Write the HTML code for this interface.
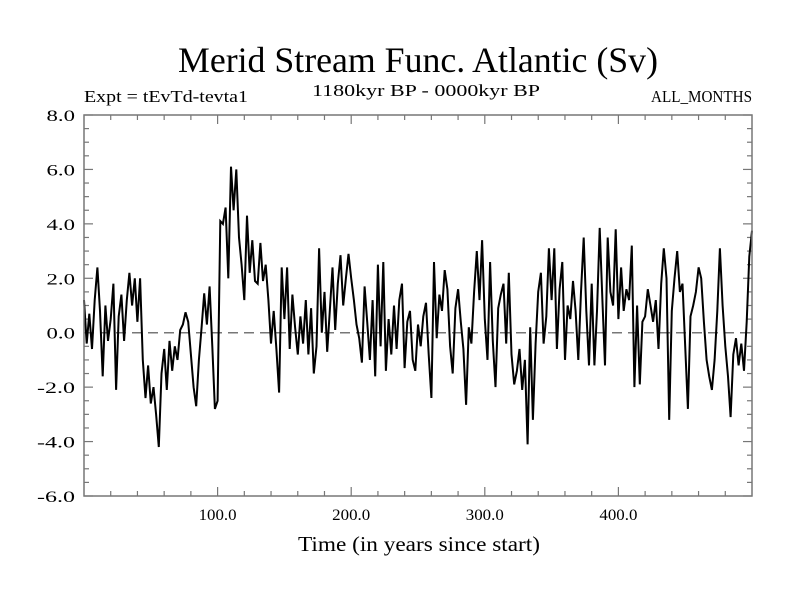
<!DOCTYPE html>
<html><head><meta charset="utf-8"><style>
body{margin:0;background:#fff}
svg text{font-family:"Liberation Serif",serif;fill:#000}
</style></head><body>
<svg id="chart" width="800" height="600">
<text x="178" y="72" font-size="36" textLength="480" lengthAdjust="spacingAndGlyphs">Merid Stream Func. Atlantic (Sv)</text>
<text x="84" y="102" font-size="17" textLength="164" lengthAdjust="spacingAndGlyphs">Expt = tEvTd-tevta1</text>
<text x="312" y="96" font-size="17" textLength="228" lengthAdjust="spacingAndGlyphs">1180kyr BP - 0000kyr BP</text>
<text x="651" y="102" font-size="17" textLength="101" lengthAdjust="spacingAndGlyphs">ALL_MONTHS</text>
<text x="298" y="551" font-size="21" textLength="242" lengthAdjust="spacingAndGlyphs">Time (in years since start)</text>
<g id="axes"></g>
<path id="series" fill="none" stroke="#000" stroke-width="2"/>
<rect x="84" y="115" width="668" height="381" fill="none" stroke="#777" stroke-width="1.5"/>
</svg>
<script>
const yearStep = 2;
const values = [
1.2,-0.4,0.7,-0.6,1.2,2.4,0.8,-1.6,1.0,-0.3,
0.5,1.8,-2.1,0.6,1.4,-0.3,1.2,2.2,1.0,2.0,
0.4,2.0,-1.0,-2.4,-1.2,-2.6,-2.0,-3.0,-4.2,-1.5,
-0.6,-2.1,-0.3,-1.4,-0.5,-1.0,0.1,0.3,0.75,0.4,
-0.8,-2.0,-2.7,-1.0,0.2,1.45,0.3,1.7,-0.5,-2.8,
-2.5,4.1,4.0,4.6,2.0,6.1,4.5,6.0,3.5,2.5,
1.2,4.3,2.2,3.4,1.9,1.8,3.3,1.9,2.5,1.2,
-0.4,0.8,-0.6,-2.2,2.4,0.5,2.4,-0.6,1.4,0.2,
-0.8,0.6,-0.4,1.2,-0.8,0.9,-1.5,-0.5,3.1,0.0,
1.5,-0.7,0.8,2.4,0.1,1.8,2.85,1.0,2.0,2.9,
2.0,1.2,0.3,-0.2,-1.1,1.7,0.4,-1.0,1.2,-1.6,
2.5,-0.5,2.6,-1.4,0.5,-0.8,1.0,-0.6,1.2,1.8,
-1.3,0.4,0.8,-1.0,-1.4,0.3,-0.5,0.6,1.1,-0.8,
-2.4,2.6,-0.2,1.4,0.8,2.3,1.6,-0.5,-1.5,0.9,
1.6,0.4,-0.6,-2.65,0.2,-0.4,1.5,3.0,1.2,3.4,
0.5,-1.0,2.6,-0.3,-2.0,0.9,1.4,1.8,-0.4,2.2,
-0.8,-1.9,-1.4,-0.6,-2.1,-1.0,-4.1,0.2,-3.2,-0.4,
1.5,2.2,-0.4,0.6,3.1,1.2,3.1,-0.6,1.6,2.6,
-1.0,1.0,0.5,1.9,0.8,-1.0,1.5,3.5,0.8,-1.2,
1.8,-1.2,0.8,3.85,1.2,-1.2,3.5,1.5,1.0,3.8,
0.5,2.4,0.8,1.6,1.2,3.2,-2.0,1.0,-1.9,0.4,
0.6,1.6,1.0,0.4,1.2,-0.6,1.8,3.1,2.0,-3.2,
0.8,2.0,3.0,1.5,1.8,-0.5,-2.8,0.6,1.0,1.5,
2.4,2.0,0.4,-1.0,-1.6,-2.1,-1.0,0.8,3.1,1.0,
-0.5,-1.6,-3.1,-0.8,-0.2,-1.2,-0.4,-1.4,0.4,2.8,
3.75
];
const yTicks = [-6,-4,-2,0,2,4,6,8];
const yTickLabels = ["-6.0","-4.0","-2.0","0.0","2.0","4.0","6.0","8.0"];
const xTicks = [100,200,300,400];
const xTickLabels = ["100.0","200.0","300.0","400.0"];
const X0=84,X1=752,Y0=496,Y1=115,XMIN=0,XMAX=500,YMIN=-6,YMAX=8;
const sx=v=>X0+(v-XMIN)/(XMAX-XMIN)*(X1-X0);
const sy=v=>Y0-(v-YMIN)/(YMAX-YMIN)*(Y0-Y1);
const NS="http://www.w3.org/2000/svg";
const axes=document.getElementById('axes');
function mk(tag,attrs){const e=document.createElementNS(NS,tag);for(const k in attrs)e.setAttribute(k,attrs[k]);axes.appendChild(e);return e;}
let z=mk('line',{x1:X0,x2:X1,y1:sy(0),y2:sy(0),stroke:'#777','stroke-width':1.5,'stroke-dasharray':'10,6'});


for(let v=YMIN;v<=YMAX+1e-9;v+=0.5){
  const major=Math.abs(v/2-Math.round(v/2))<1e-9;
  const L=major?9:5;
  let t=mk('line',{x1:X0,x2:X0+L,y1:sy(v),y2:sy(v),stroke:'#777','stroke-width':1.2});
  
  
  let t2=mk('line',{x1:X1-L,x2:X1,y1:sy(v),y2:sy(v),stroke:'#777','stroke-width':1.2});
  
  
}
yTicks.forEach((v,i)=>{
  const lab=yTickLabels[i];
  const w=lab.length*9.5;
  let t=mk('text',{x:X0-9-w,y:sy(v)+6,'font-size':16,textLength:w,lengthAdjust:'spacingAndGlyphs'});
  t.textContent=lab;
  
  
});
for(let v=20;v<XMAX;v+=20){
  const major=v%100===0;const L=major?9:5;
  let t=mk('line',{x1:sx(v),x2:sx(v),y1:Y0,y2:Y0-L,stroke:'#777','stroke-width':1.2});
  
  
  let t2=mk('line',{x1:sx(v),x2:sx(v),y1:Y1,y2:Y1+L,stroke:'#777','stroke-width':1.2});
  
  
}
xTicks.forEach((v,i)=>{
  let t=mk('text',{x:sx(v)-19,y:Y0+24,'font-size':16,textLength:38,lengthAdjust:'spacingAndGlyphs'});
  t.textContent=xTickLabels[i];
  
  
});
document.getElementById('series').setAttribute('d',values.map((v,i)=>(i?'L':'M')+sx(i*yearStep).toFixed(1)+','+sy(v).toFixed(1)).join(''));
</script>
</body></html>
